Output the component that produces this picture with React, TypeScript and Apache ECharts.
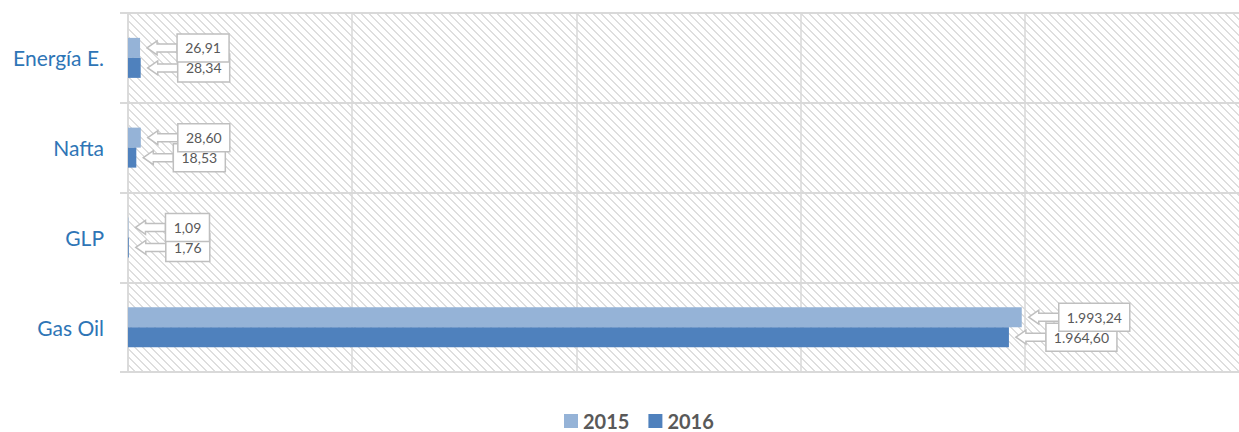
import React, { useEffect, useRef } from "react";
import * as echarts from "echarts";

const categories = ["Energía E.", "Nafta", "GLP", "Gas Oil"];
const values2015 = [26.91, 28.6, 1.09, 1993.24];
const values2016 = [28.34, 18.53, 1.76, 1964.6];
const seriesNames = ["2015", "2016"];
const xMin = 0;
const xMax = 2500;
const xInterval = 500;

const COLORS = ["#95B3D7", "#4F81BD"];
const GRID_COLOR = "#D9D9D9";
const LABEL_FONT = "14px Lato";
const CHART_W = 1249;
const CHART_H = 432;

function fmt(v: number): string {
  const [i, d] = v.toFixed(2).split(".");
  return i.replace(/\B(?=(\d{3})+(?!\d))/g, ".") + "," + d;
}

let measureCtx: CanvasRenderingContext2D | null = null;
function measure(text: string): number {
  if (!measureCtx) {
    const c = document.createElement("canvas");
    measureCtx = c.getContext("2d");
  }
  if (!measureCtx) return text.length * 7;
  measureCtx.font = LABEL_FONT;
  return measureCtx.measureText(text).width;
}

function makeHatch(): HTMLCanvasElement {
  const c = document.createElement("canvas");
  c.width = 8;
  c.height = 8;
  const ctx = c.getContext("2d")!;
  ctx.fillStyle = "#ffffff";
  ctx.fillRect(0, 0, 8, 8);
  ctx.fillStyle = "#DEDEDE";
  for (let i = 0; i < 8; i++) {
    ctx.fillRect(i, i, 1, 1);
    ctx.fillRect((i + 1) % 8, i, 1, 1);
  }
  return c;
}

function labelSeries(name: string, data: number[], offset: number, z: number) {
  return {
    type: "custom",
    name,
    z,
    silent: true,
    data: data.map((v, i) => [v, i]),
    encode: { x: 0, y: 1 },
    renderItem: (_params: any, api: any) => {
      const v = api.value(0) as number;
      const ci = api.value(1) as number;
      const p = api.coord([v, ci]);
      const y = p[1] + offset;
      const tip = p[0] + 7;
      const headEnd = tip + 10;
      const boxX = tip + 30;
      const text = fmt(v);
      const bw = Math.round(measure(text) + 16);
      const bh = 28;
      return {
        type: "group",
        children: [
          {
            type: "polygon",
            shape: {
              points: [
                [tip, y],
                [headEnd, y - 7],
                [headEnd, y - 4],
                [boxX, y - 4],
                [boxX, y + 4],
                [headEnd, y + 4],
                [headEnd, y + 7],
              ],
            },
            style: { fill: "#ffffff", stroke: "#BFBFBF", lineWidth: 1.5 },
          },
          {
            type: "rect",
            shape: { x: boxX, y: y - bh / 2, width: bw, height: bh },
            style: { fill: "#ffffff", stroke: "#BFBFBF", lineWidth: 1.5 },
          },
          {
            type: "text",
            x: boxX + bw / 2,
            y: y,
            style: {
              text,
              fill: "#595959",
              font: LABEL_FONT,
              align: "center",
              verticalAlign: "middle",
            },
          },
        ],
      };
    },
  };
}

export default function App() {
  const ref = useRef<HTMLDivElement>(null);
  useEffect(() => {
    if (!ref.current) return;
    const chart = echarts.init(ref.current, undefined, { renderer: "svg" });
    const hatch = makeHatch();
    const gridLeft = 128;
    const gridTop = 13;
    const gridBottom = 60;
    const gridRight = 0;
    chart.setOption({
      animation: false,
      backgroundColor: "#ffffff",
      graphic: [
        {
          type: "rect",
          left: gridLeft,
          top: gridTop,
          z: -10,
          silent: true,
          shape: { width: CHART_W - gridLeft, height: CHART_H - gridTop - gridBottom },
          style: { fill: { image: hatch, repeat: "repeat" } as any },
        },
      ],
      grid: { left: gridLeft, right: gridRight, top: gridTop, bottom: gridBottom, containLabel: false },
      legend: {
        data: seriesNames,
        left: 564,
        top: 411,
        padding: 0,
        icon: "rect",
        itemWidth: 14,
        itemHeight: 14,
        itemGap: 19,
        textStyle: {
          fontFamily: "Lato",
          fontWeight: "bold",
          fontSize: 20,
          lineHeight: 20,
          color: "#595959",
        },
      },
      xAxis: {
        type: "value",
        min: xMin,
        max: xMax,
        interval: xInterval,
        axisLabel: { show: false },
        axisLine: { show: false },
        axisTick: { show: false },
        splitLine: { show: true, lineStyle: { color: GRID_COLOR, width: 1.5 } },
      },
      yAxis: {
        type: "category",
        data: categories,
        inverse: true,
        axisLine: { show: true, lineStyle: { color: GRID_COLOR, width: 1.5 } },
        axisTick: { show: true, length: 8, lineStyle: { color: GRID_COLOR, width: 2 } },
        splitLine: { show: true, lineStyle: { color: GRID_COLOR, width: 2 } },
        axisLabel: { margin: 24, fontFamily: "Lato", fontSize: 21, color: "#2E75B6" },
      },
      series: [
        {
          type: "bar",
          name: seriesNames[0],
          data: values2015,
          barWidth: 20,
          barGap: "0%",
          itemStyle: { color: COLORS[0] },
        },
        {
          type: "bar",
          name: seriesNames[1],
          data: values2016,
          barWidth: 20,
          barGap: "0%",
          itemStyle: { color: COLORS[1] },
        },
        labelSeries("lbl2016", values2016, 10, 5),
        labelSeries("lbl2015", values2015, -10, 6),
      ],
    } as any);
    return () => chart.dispose();
  }, []);
  return (
    <div
      ref={ref}
      style={{ position: "fixed", left: 0, top: 0, width: CHART_W, height: CHART_H }}
    />
  );
}
